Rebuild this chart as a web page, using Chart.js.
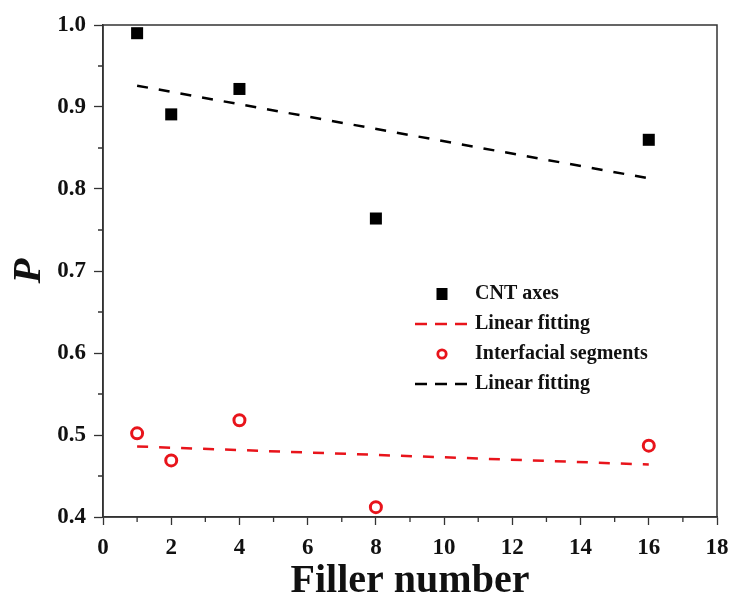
<!DOCTYPE html>
<html><head><meta charset="utf-8">
<script src="https://cdn.jsdelivr.net/npm/chart.js@4"></script>
<style>html,body{margin:0;padding:0;background:#fff;}#wrap{width:732px;height:599px;}</style>
</head><body><div id="wrap"><canvas id="c" width="732" height="599"></canvas></div>
<script>
const fillerNumbers = [1, 2, 4, 8, 16];
const cntAxes = [0.990, 0.891, 0.922, 0.764, 0.860];
const interfacial = [0.502, 0.469, 0.518, 0.412, 0.487];
const fitX = [1, 16];
const cntFit = [0.926, 0.813];
const interfacialFit = [0.486, 0.464];
const xTicks = [0, 2, 4, 6, 8, 10, 12, 14, 16, 18];
const yTicks = [0.4, 0.5, 0.6, 0.7, 0.8, 0.9, 1.0];
const legendLabels = ['CNT axes', 'Linear fitting', 'Interfacial segments', 'Linear fitting'];

const pts = (xs, ys) => xs.map((x, i) => ({x: x, y: ys[i]}));
const FONT = '"Liberation Serif", "Times New Roman", serif';
const DASH = [11, 11];

const framePlugin = {
  id: 'frame',
  afterDraw(chart) {
    const {ctx, chartArea: a, scales} = chart;
    ctx.save();
    ctx.strokeStyle = '#333';
    ctx.lineWidth = 1.5;
    ctx.strokeRect(a.left, a.top, a.right - a.left, a.bottom - a.top);
    ctx.lineWidth = 1.3;
    ctx.beginPath();
    for (let v = 1; v < 18; v += 2) {
      const px = scales.x.getPixelForValue(v);
      ctx.moveTo(px, a.bottom); ctx.lineTo(px, a.bottom + 5);
    }
    for (let v = 0.45; v < 1.0; v += 0.1) {
      const py = scales.y.getPixelForValue(v);
      ctx.moveTo(a.left, py); ctx.lineTo(a.left - 5, py);
    }
    ctx.stroke();
    ctx.restore();
  }
};

const legendPlugin = {
  id: 'innerLegend',
  afterDraw(chart) {
    const {ctx} = chart;
    const ds = chart.data.datasets;
    ctx.save();
    ctx.font = 'bold 20px ' + FONT;
    ctx.textBaseline = 'middle';
    const y0 = 294, dy = 30, sx = 442, tx = 475;
    ds.forEach((d, i) => {
      const y = y0 + i * dy;
      if (d.showLine) {
        ctx.save();
        ctx.strokeStyle = d.borderColor;
        ctx.lineWidth = 2.5;
        ctx.setLineDash([12, 8]);
        ctx.beginPath(); ctx.moveTo(415, y); ctx.lineTo(469, y); ctx.stroke();
        ctx.restore();
      } else if (d.pointStyle === 'rect') {
        ctx.fillStyle = d.backgroundColor;
        ctx.fillRect(sx - 5.5, y - 6, 11, 12);
      } else {
        ctx.save();
        ctx.strokeStyle = d.pointBorderColor;
        ctx.lineWidth = 2.8;
        ctx.beginPath(); ctx.arc(sx, y, 4.2, 0, Math.PI * 2); ctx.stroke();
        ctx.restore();
      }
      ctx.fillStyle = '#111';
      ctx.fillText(legendLabels[i], tx, y);
    });
    ctx.restore();
  }
};

new Chart(document.getElementById('c'), {
  type: 'scatter',
  data: {
    datasets: [
      {label: legendLabels[0], data: pts(fillerNumbers, cntAxes), pointStyle: 'rect', pointRadius: 8.5, backgroundColor: '#000', borderColor: '#000', pointBorderWidth: 0, showLine: false, order: 1},
      {label: legendLabels[1], data: pts(fitX, interfacialFit), showLine: true, borderColor: '#e8141b', borderWidth: 2.5, borderDash: DASH, pointRadius: 0, fill: false, order: 2},
      {label: legendLabels[2], data: pts(fillerNumbers, interfacial), pointStyle: 'circle', pointRadius: 5.5, pointBorderWidth: 3, pointBorderColor: '#e8141b', backgroundColor: 'rgba(255,255,255,0)', borderColor: '#e8141b', showLine: false, order: 1},
      {label: legendLabels[3], data: pts(fitX, cntFit), showLine: true, borderColor: '#000', borderWidth: 2.5, borderDash: DASH, pointRadius: 0, fill: false, order: 2}
    ]
  },
  options: {
    responsive: false,
    animation: false,
    devicePixelRatio: 1,
    layout: {padding: {top: 25, right: 15, left: 0, bottom: 0}},
    plugins: {legend: {display: false}, tooltip: {enabled: false}},
    scales: {
      x: {
        type: 'linear', min: 0, max: 18,
        afterBuildTicks: s => { s.ticks = xTicks.map(v => ({value: v})); },
        afterFit: s => { s.height = 82; s.paddingLeft = 0; s.paddingRight = 0; },
        grid: {drawOnChartArea: false, drawTicks: true, tickLength: 8, tickColor: '#333', tickWidth: 1.3},
        border: {display: true, color: '#333', width: 1.5},
        ticks: {color: '#111', font: {family: FONT, size: 23, weight: 'bold'}, padding: 9, maxRotation: 0},
        title: {display: true, text: 'Filler number', color: '#111', font: {family: FONT, size: 40, weight: 'bold', lineHeight: 1}, padding: {top: 0, bottom: -3}}
      },
      y: {
        type: 'linear', min: 0.4, max: 1.0,
        afterBuildTicks: s => { s.ticks = yTicks.map(v => ({value: v})); },
        afterFit: s => { s.width = 103; s.paddingTop = 0; s.paddingBottom = 0; },
        grid: {drawOnChartArea: false, drawTicks: true, tickLength: 9, tickColor: '#333', tickWidth: 1.3},
        border: {display: true, color: '#333', width: 1.5},
        ticks: {color: '#111', font: {family: FONT, size: 23, weight: 'bold'}, padding: 8, callback: v => Number(v).toFixed(1)},
        title: {display: true, text: 'P', color: '#111', font: {family: FONT, size: 41, weight: 'bold', style: 'italic', lineHeight: 1}, padding: {top: 9, bottom: 0}}
      }
    }
  },
  plugins: [framePlugin, legendPlugin]
});
</script>
</body></html>
